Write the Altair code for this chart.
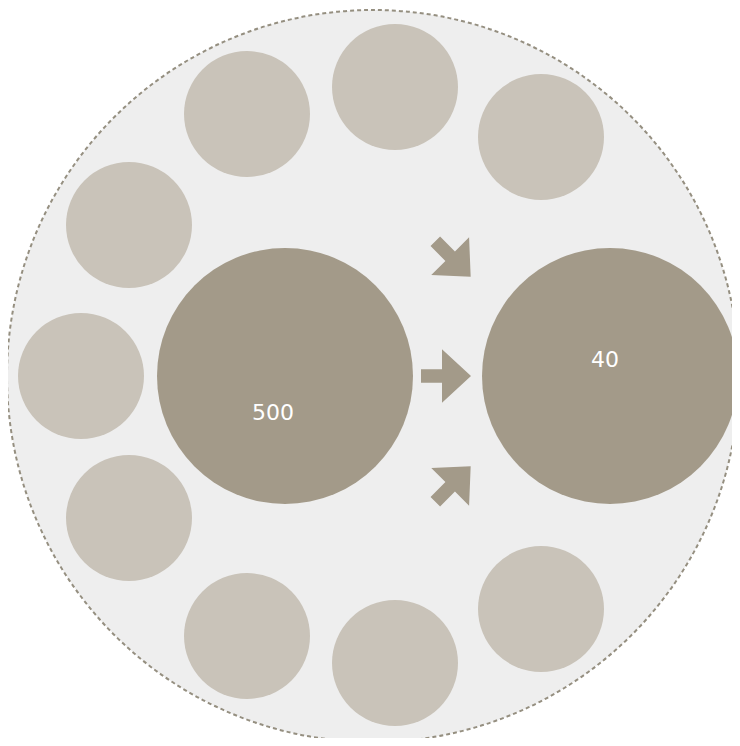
import altair as alt
import pandas as pd

# Diagram data (coordinates relative to the ring centre, y pointing up)
ring_x = [-127, 21, 167, -245, -293, -245, -127, 21, 167]
ring_y = [262, 289, 239, 151, 0, -142, -260, -287, -233]

big_x = [-89, 236]
big_y = [0, 0]

label_text = ["500", "40"]
label_x = [-101, 231]
label_y = [-37, 16]

arrow_x = [79, 72, 79]
arrow_y = [117, 0, -108]
arrow_angle = [45, 0, 315]

outer_x = [-1]
outer_y = [0]

X_DOMAIN = [-366, 358]
Y_DOMAIN = [-362, 368]

xs = alt.Scale(domain=X_DOMAIN, nice=False, zero=False)
ys = alt.Scale(domain=Y_DOMAIN, nice=False, zero=False)

def enc(**kw):
    return dict(
        x=alt.X("x:Q", scale=xs, axis=None),
        y=alt.Y("y:Q", scale=ys, axis=None),
        **kw,
    )

outer_df = pd.DataFrame({"x": outer_x, "y": outer_y})
ring_df = pd.DataFrame({"x": ring_x, "y": ring_y})
big_df = pd.DataFrame({"x": big_x, "y": big_y})
label_df = pd.DataFrame({"x": label_x, "y": label_y, "t": label_text})
arrow_df = pd.DataFrame({"x": arrow_x, "y": arrow_y, "a": arrow_angle})

outer = alt.Chart(outer_df).mark_point(
    shape="circle", size=732 * 732, filled=True, fill="#eeeeee", fillOpacity=1,
    stroke="#958f80", strokeWidth=2, strokeDash=[4, 3], opacity=1,
).encode(**enc())

ring = alt.Chart(ring_df).mark_point(
    shape="circle", size=126 * 126, filled=True, color="#c9c3b9", opacity=1,
).encode(**enc())

big = alt.Chart(big_df).mark_point(
    shape="circle", size=256 * 256, filled=True, color="#a39a89", opacity=1,
).encode(**enc())

arrow_path = "M-1,-0.27L-0.16,-0.27L-0.16,-1.07L1,0L-0.16,1.07L-0.16,0.27L-1,0.27Z"
arrows = alt.Chart(arrow_df).mark_point(
    shape=arrow_path, size=2500, filled=True, color="#a39a89", opacity=1,
).encode(**enc(angle=alt.Angle("a:Q", scale=None)))

labels = alt.Chart(label_df).mark_text(
    font="DejaVu Sans", fontSize=22, color="white", align="center", baseline="middle",
).encode(**enc(text="t:N"))

chart = alt.layer(outer, ring, big, arrows, labels).properties(
    width=724, height=730, padding=0,
    autosize=alt.AutoSizeParams(type="none"),
).configure_view(stroke=None)

chart.save("out.html", embed_options={"renderer": "svg", "actions": False})
